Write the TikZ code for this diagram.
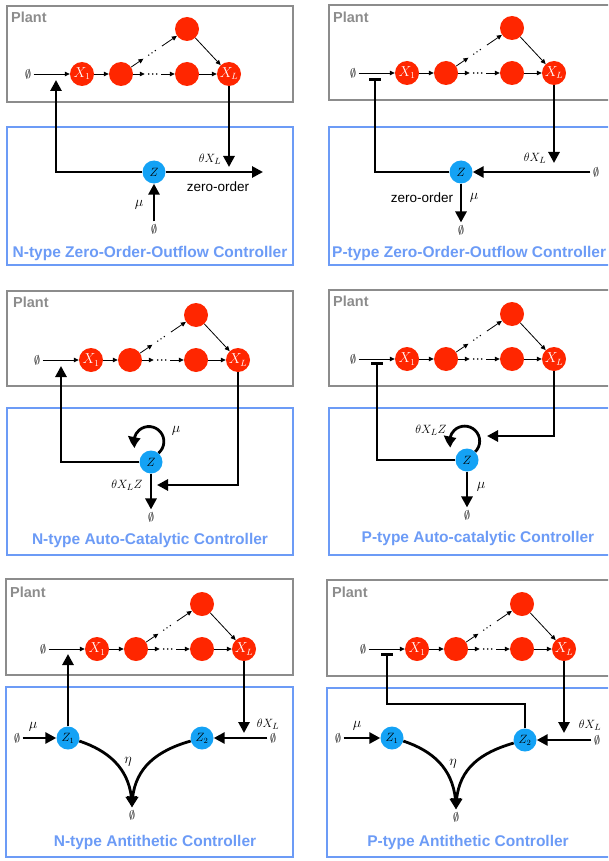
\documentclass[tikz,border=0pt]{standalone}
\usepackage{fontspec}
\setsansfont{Liberation Sans}
\usetikzlibrary{arrows.meta,calc,bending}

\definecolor{plantred}{RGB}{255,38,0}
\definecolor{ctrlblue}{RGB}{20,162,245}
\definecolor{titleblue}{RGB}{108,155,246}
\definecolor{boxgray}{RGB}{140,140,140}

\tikzset{
  species/.style={circle, fill=plantred, inner sep=0pt, minimum size=24pt,
    text=white, font=\fontsize{13.5}{13.5}\selectfont},
  ctrl/.style={circle, fill=ctrlblue, inner sep=0pt, minimum size=23pt,
    font=\fontsize{11.5}{11.5}\selectfont},
  void/.style={inner sep=2.5pt, font=\fontsize{12.5}{12.5}\selectfont},
  rxn/.style={line width=0.8pt, -{Triangle[length=5pt,width=4.5pt]}},
  dotrun/.style={line width=1.6pt, line cap=round, dash pattern=on 0pt off 4pt},
  fb/.style={line width=2.8pt, -{Triangle[length=11pt,width=11pt]}},
  loopfb/.style={line width=2.8pt, -{Triangle[length=11pt,width=12pt,bend]}},
  inhib/.style={line width=2.8pt, -{Bar[width=12pt]}},
  plantbox/.style={draw=boxgray, line width=2pt},
  ctrlbox/.style={draw=titleblue, line width=2pt},
  plantlabel/.style={anchor=base west, text=boxgray, inner sep=0pt,
    font=\sffamily\bfseries\fontsize{14.5}{14.5}\selectfont},
  title/.style={text=titleblue, inner sep=0pt,
    font=\sffamily\bfseries\fontsize{15.5}{15.5}\selectfont},
  rate/.style={inner sep=0pt, font=\fontsize{13}{13}\selectfont},
  greek/.style={inner sep=0pt, font=\fontsize{15}{15}\selectfont},
  plaintext/.style={inner sep=0pt, font=\sffamily\fontsize{13.5}{13.5}\selectfont},
}

% Reaction chain of the plant: prefix, position of X_1
\newcommand\plantchain[3]{%
  \begin{scope}[shift={(#2,#3)}]
    \node[void] (#1e) at (-54,0) {$\emptyset$};
    \node[species] (#1x1) at (0,0) {$X_1$};
    \node[species] (#1n2) at (39,0) {};
    \node[species] (#1t) at (105,-45) {};
    \node[species] (#1n4) at (105,0) {};
    \node[species] (#1xl) at (147,0) {$X_L$};
  \end{scope}
  \draw[rxn] (#1e) -- (#1x1);
  \draw[rxn] (#1x1) -- (#1n2);
  \coordinate (#1h1) at ($(#1n2)!0.36!(#1n4)$);
  \coordinate (#1h2) at ($(#1n2)!0.42!(#1n4)$);
  \coordinate (#1h3) at ($(#1n2)!0.58!(#1n4)$);
  \coordinate (#1h4) at ($(#1n2)!0.61!(#1n4)$);
  \draw[rxn] (#1n2) -- (#1h1);
  \draw[dotrun] (#1h2) -- (#1h3);
  \draw[rxn] (#1h4) -- (#1n4);
  \coordinate (#1d1) at ($(#1n2)!0.34!(#1t)$);
  \coordinate (#1d2) at ($(#1n2)!0.42!(#1t)$);
  \coordinate (#1d3) at ($(#1n2)!0.57!(#1t)$);
  \coordinate (#1d4) at ($(#1n2)!0.62!(#1t)$);
  \draw[rxn] (#1n2) -- (#1d1);
  \draw[dotrun] (#1d2) -- (#1d3);
  \draw[rxn] (#1d4) -- (#1t);
  \draw[rxn] (#1t) -- (#1xl);
  \draw[rxn] (#1n4) -- (#1xl);
}

\begin{document}
\begin{tikzpicture}[x=1pt, y=-1pt]
\useasboundingbox (0,0) rectangle (608,861);
\clip (0,0) rectangle (608,861);

% ---------- N-type zero-order outflow ----------
\draw[plantbox] (7,6) rectangle (293,102);
\node[plantlabel] (alab) at (11,23) {Plant};
\plantchain{a}{82}{74}
\draw[ctrlbox] (7,127) rectangle (293,265);
\node[ctrl] (az) at (154,172) {$Z$};
\coordinate (acorner) at (56,172);
\coordinate (ain) at (56,80);
\draw[fb] (az) -- (acorner) -- (ain);
\coordinate (aout) at (263,172);
\draw[fb] (az) -- (aout);
\node[plaintext] (azo) at (218,187) {zero-order};
\coordinate (adeg) at (axl |- 0,167);
\draw[fb] (axl) -- (adeg);
\node[rate] (atheta) at (210,159) {$\theta X_L$};
\node[void] (asrc) at (154,229) {$\emptyset$};
\draw[fb] (asrc) -- (az);
\node[greek] (amu) at (139,205) {$\mu$};
\node[title] (atitle) at (150,253) {N-type Zero-Order-Outflow Controller};

% ---------- P-type zero-order outflow ----------
\draw[plantbox] (329,5) rectangle (620,100);
\node[plantlabel] (blab) at (333,23) {Plant};
\plantchain{b}{407}{73}
\draw[ctrlbox] (329,127) rectangle (620,265);
\node[ctrl] (bz) at (461,172) {$Z$};
\coordinate (bcorner) at (375,172);
\coordinate (bbar) at (375,78);
\draw[inhib] (bz) -- (bcorner) -- (bbar);
\node[void] (bsrc) at (596,172) {$\emptyset$};
\draw[fb] (bsrc) -- (bz);
\coordinate (bdeg) at (bxl |- 0,163);
\draw[fb] (bxl) -- (bdeg);
\node[rate] (btheta) at (535,158) {$\theta X_L$};
\node[void] (bout) at (461,230) {$\emptyset$};
\draw[fb] (bz) -- (bout);
\node[plaintext] (bzo) at (422,198) {zero-order};
\node[greek] (bmu) at (474,198) {$\mu$};
\node[title, anchor=west] (btitle) at (332,253) {P-type Zero-Order-Outflow Controller};

% ---------- N-type auto-catalytic ----------
\draw[plantbox] (7,291) rectangle (293,386);
\node[plantlabel] (clab) at (13,307) {Plant};
\plantchain{c}{91}{360}
\draw[ctrlbox] (7,408) rectangle (293,555);
\node[ctrl] (cz) at (151,462) {$Z$};
\coordinate (ccorner) at (61,462);
\coordinate (cin) at (61,366);
\draw[fb] (cz) -- (ccorner) -- (cin);
\draw[loopfb] (cz.50) arc[start angle=50, end angle=-205, radius=15];
\node[greek] (cmu) at (176,431) {$\mu$};
\coordinate (cbend) at (cxl |- 0,485);
\coordinate (cin2) at (157,485);
\draw[fb] (cxl) -- (cbend) -- (cin2);
\node[void] (cout) at (151,517) {$\emptyset$};
\draw[fb] (cz) -- (cout);
\node[rate] (ctheta) at (127,485) {$\theta X_L Z$};
\node[title] (ctitle) at (150,540) {N-type Auto-Catalytic Controller};

% ---------- P-type auto-catalytic ----------
\draw[plantbox] (329,290) rectangle (620,386);
\node[plantlabel] (dlab) at (333,306) {Plant};
\plantchain{d}{407}{359}
\draw[ctrlbox] (329,408) rectangle (620,555);
\node[ctrl] (dz) at (467,460) {$Z$};
\coordinate (dcorner) at (377,460);
\coordinate (dbar) at (377,362);
\draw[inhib] (dz) -- (dcorner) -- (dbar);
\draw[loopfb] (dz.45) arc[start angle=45, end angle=-205, radius=15];
\node[rate] (dtheta) at (431,430) {$\theta X_L Z$};
\coordinate (dbend) at (dxl |- 0,436);
\coordinate (din) at (487,436);
\draw[fb] (dxl) -- (dbend) -- (din);
\node[void] (dout) at (467,515) {$\emptyset$};
\draw[fb] (dz) -- (dout);
\node[greek] (dmu) at (481,487) {$\mu$};
\node[title] (dtitle) at (478,538) {P-type Auto-catalytic Controller};

% ---------- N-type antithetic ----------
\draw[plantbox] (6,579) rectangle (293,675);
\node[plantlabel] (elab) at (10,597) {Plant};
\plantchain{e}{97}{649}
\draw[ctrlbox] (6,687) rectangle (293,857);
\node[ctrl] (ez1) at (68,738) {$Z_1$};
\node[ctrl] (ez2) at (202,738) {$Z_2$};
\coordinate (ein) at (68,654);
\draw[fb] (ez1) -- (ein);
\coordinate (edeg) at (exl |- 0,733);
\draw[fb] (exl) -- (edeg);
\node[rate] (etheta) at (268,724) {$\theta X_L$};
\node[void] (esrc2) at (273,738) {$\emptyset$};
\draw[fb] (esrc2) -- (ez2);
\node[void] (esrc1) at (17,738) {$\emptyset$};
\draw[fb] (esrc1) -- (ez1);
\node[greek] (emu) at (33,727) {$\mu$};
\node[void] (esink) at (132,815) {$\emptyset$};
\draw[fb] (ez1.-15) .. controls (112,752) and (132,772) .. (esink);
\draw[fb] (ez2.195) .. controls (152,752) and (132,772) .. (esink);
\node[greek] (eeta) at (128,762) {$\eta$};
\node[title] (etitle) at (155,842) {N-type Antithetic Controller};

% ---------- P-type antithetic ----------
\draw[plantbox] (327,580) rectangle (620,676);
\node[plantlabel] (flab) at (332,597) {Plant};
\plantchain{f}{417}{649}
\draw[ctrlbox] (327,688) rectangle (620,857);
\node[ctrl] (fz1) at (392,738) {$Z_1$};
\node[ctrl] (fz2) at (525,740) {$Z_2$};
\coordinate (fturn2) at (fz2 |- 0,704);
\coordinate (fturn1) at (387,704);
\coordinate (fbar) at (387,653);
\draw[inhib] (fz2) -- (fturn2) -- (fturn1) -- (fbar);
\coordinate (fdeg) at (fxl |- 0,733);
\draw[fb] (fxl) -- (fdeg);
\node[rate] (ftheta) at (590,725) {$\theta X_L$};
\node[void] (fsrc2) at (597,740) {$\emptyset$};
\draw[fb] (fsrc2) -- (fz2);
\node[void] (fsrc1) at (338,738) {$\emptyset$};
\draw[fb] (fsrc1) -- (fz1);
\node[greek] (fmu) at (357,726) {$\mu$};
\node[void] (fsink) at (456,817) {$\emptyset$};
\draw[fb] (fz1.-15) .. controls (436,752) and (456,772) .. (fsink);
\draw[fb] (fz2.195) .. controls (476,754) and (456,772) .. (fsink);
\node[greek] (feta) at (453,764) {$\eta$};
\node[title] (ftitle) at (468,842) {P-type Antithetic Controller};
\end{tikzpicture}
\end{document}
